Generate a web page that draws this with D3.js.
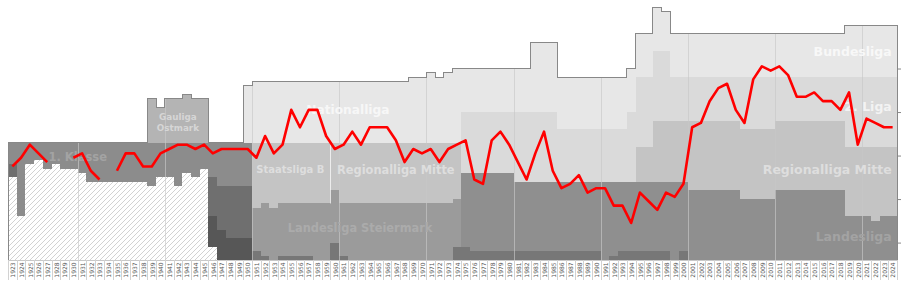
<!DOCTYPE html>
<html>
<head>
<meta charset="utf-8">
<style>
  body { margin: 0; background: #fff; }
  svg { display: block; }
  text { font-family: "DejaVu Sans", Verdana, sans-serif; }
</style>
</head>
<body>
<div id="chartId"></div>
<script src="https://d3js.org/d3.v7.min.js"></script>
<script>

// Seasons (end year of the season)
const firstYear = 1923;
const lastYear = 2024;
const bottomRank = 54;

// League bands: [first season, last season, top position, bottom position]
// unknown lower leagues (hatched)
const hatchBands = [
  [1923, 1923, 35, 54], [1924, 1924, 44, 54], [1925, 1925, 32, 54], [1926, 1926, 31, 54],
  [1927, 1927, 33, 54], [1928, 1928, 32, 54], [1929, 1930, 33, 54], [1931, 1931, 34, 54],
  [1932, 1938, 36, 54], [1939, 1939, 37, 54], [1940, 1941, 35, 54], [1942, 1942, 37, 54],
  [1943, 1943, 34, 54], [1944, 1944, 35, 54], [1945, 1945, 33, 54], [1946, 1946, 51, 54]
];
// Gauliga Ostmark
const gauligaBands = [
  [1939, 1939, 17, 27], [1940, 1940, 19, 27], [1941, 1942, 17, 27], [1943, 1943, 16, 27], [1944, 1945, 17, 27]
];
// 1. Klasse and the regional leagues after the war
const klasseBands = [
  [1923, 1923, 27, 32], [1924, 1924, 27, 44], [1925, 1925, 27, 32], [1926, 1926, 27, 31],
  [1927, 1927, 27, 33], [1928, 1928, 27, 32], [1929, 1930, 27, 33], [1931, 1931, 27, 34],
  [1932, 1938, 27, 36], [1939, 1939, 27, 37], [1940, 1941, 27, 35], [1942, 1942, 27, 37],
  [1943, 1943, 27, 34], [1944, 1944, 27, 35], [1945, 1945, 27, 33], [1946, 1946, 27, 35],
  [1947, 1950, 27, 37]
];
const lowerBands = [
  [1923, 1923, 32, 35], [1946, 1946, 35, 44], [1947, 1947, 37, 47], [1948, 1950, 37, 49]
];
const lowestBands = [
  [1946, 1946, 44, 51], [1947, 1947, 47, 54], [1948, 1950, 49, 54]
];
// Nationalliga / Bundesliga
const tier1Bands = [
  [1950, 1950, 14, 27], [1951, 1968, 13, 27], [1969, 1970, 12, 27], [1971, 1971, 11, 27],
  [1972, 1972, 12, 27], [1973, 1973, 11, 27], [1974, 1974, 10, 27], [1975, 1982, 10, 20],
  [1983, 1985, 4, 20], [1986, 1993, 12, 24], [1994, 1994, 10, 20], [1995, 1996, 2, 12],
  [1997, 1997, -4, 6], [1998, 1998, -3, 6], [1999, 2018, 2, 12], [2019, 2024, 0, 12]
];
// 2. Division / Erste Liga / 2. Liga
const tier2Bands = [
  [1975, 1980, 20, 34], [1981, 1985, 20, 36], [1986, 1993, 24, 36], [1994, 1994, 20, 36],
  [1995, 1996, 12, 28], [1997, 1998, 6, 22], [1999, 2006, 12, 22], [2007, 2010, 12, 24],
  [2011, 2018, 12, 22], [2019, 2024, 12, 28]
];
// Staatsliga B / Regionalliga Mitte
const tier3Bands = [
  [1951, 1951, 27, 42], [1952, 1952, 27, 41], [1953, 1953, 27, 42], [1954, 1959, 27, 41],
  [1960, 1960, 27, 38], [1961, 1973, 27, 41], [1974, 1974, 27, 40], [1995, 1996, 28, 36],
  [1997, 2000, 22, 36], [2001, 2006, 22, 38], [2007, 2010, 24, 40], [2011, 2018, 22, 38],
  [2019, 2021, 28, 44], [2022, 2022, 28, 45], [2023, 2024, 28, 44]
];
// Landesliga Steiermark (1951-1974)
const landesBands = [
  [1951, 1951, 42, 52], [1952, 1952, 41, 53], [1953, 1953, 42, 54], [1954, 1957, 41, 53],
  [1958, 1959, 41, 54], [1960, 1960, 38, 50], [1961, 1961, 41, 53], [1962, 1973, 41, 54],
  [1974, 1974, 40, 51]
];
// lower tier from 1975
const tier4Bands = [
  [1975, 1975, 34, 51], [1976, 1980, 34, 52], [1981, 1990, 36, 52], [1991, 1991, 36, 54],
  [1992, 1992, 36, 53], [1993, 1998, 36, 52], [1999, 1999, 36, 54], [2000, 2000, 36, 52],
  [2001, 2006, 38, 54], [2007, 2010, 40, 54], [2011, 2018, 38, 54], [2019, 2021, 44, 54],
  [2022, 2022, 45, 54], [2023, 2024, 44, 54]
];
const tier5Bands = [
  [1951, 1951, 52, 54], [1952, 1952, 53, 54], [1954, 1957, 53, 54], [1960, 1960, 50, 54],
  [1961, 1961, 53, 54], [1974, 1975, 51, 54], [1976, 1990, 52, 54], [1992, 1992, 53, 54],
  [1993, 1998, 52, 54], [2000, 2000, 52, 54]
];

// Final position of the club each season (null = no data)
const seasons = d3.range(firstYear, lastYear + 1);
const positions = [
  33, 31, 28, 30, 32, null, null, 31, 30, 34, 36, null,
  34, 30, 30, 33, 33, 30, 29, 28, 28, 29, 28, 30, 29, 29, 29, 29,
  31, 26, 30, 28, 20, 24, 20, 20, 26, 29, 28, 25, 28, 24, 24, 24, 27, 32, 29, 30, 29, 32, 29, 28,
  27, 36, 37, 27, 25, 28, 32, 36, 30, 25, 34, 38, 37, 35, 39, 38, 38, 42, 42, 46, 39, 41, 43, 39, 40, 37,
  24, 23, 18, 15, 14, 20, 23, 13, 10, 11, 10, 12, 17, 17, 16, 18, 18, 20, 16, 28, 22, 23, 24, 24
];
const rankTicks = [10, 20, 30, 40, 50];

// Dimensions and scales
const width = 905, height = 282;
const x = d3.scaleLinear().domain([firstYear, lastYear + 1]).range([8, 897]);
const y = d3.scaleLinear().domain([0, bottomRank]).range([25, 260]);

const svg = d3.select('#chartId').append('svg')
  .attr('width', width)
  .attr('height', height);

// hatch pattern for the unknown leagues
const pat = svg.append('defs').append('pattern')
  .attr('id', 'hatch')
  .attr('patternUnits', 'userSpaceOnUse')
  .attr('width', 5).attr('height', 5);
pat.append('rect').attr('width', 5).attr('height', 5).attr('fill', '#fff');
pat.append('path')
  .attr('d', 'M0,5 L5,0 M-1,1 L1,-1 M4,6 L6,4')
  .attr('stroke', '#cdcdcd').attr('stroke-width', 0.9);

const layers = [
  {bands: hatchBands, fill: 'url(#hatch)'},
  {bands: gauligaBands, fill: '#b4b4b4'},
  {bands: klasseBands, fill: '#8c8c8c'},
  {bands: lowerBands, fill: '#6f6f6f'},
  {bands: lowestBands, fill: '#575757'},
  {bands: tier1Bands, fill: '#e7e7e7'},
  {bands: tier2Bands, fill: '#dadada'},
  {bands: tier3Bands, fill: '#c4c4c4'},
  {bands: landesBands, fill: '#9b9b9b'},
  {bands: tier4Bands, fill: '#8f8f8f'},
  {bands: tier5Bands, fill: '#777777'}
];

layers.forEach(l => {
  svg.append('g').selectAll('rect')
    .data(l.bands).join('rect')
    .attr('x', d => x(d[0]))
    .attr('width', d => x(d[1] + 1) - x(d[0]))
    .attr('y', d => y(d[2]))
    .attr('height', d => y(d[3]) - y(d[2]))
    .attr('fill', l.fill)
    .attr('shape-rendering', 'crispEdges');
});

// top of the pyramid for each season
const allBands = layers.flatMap(l => l.bands);
const topOf = yr => d3.min(allBands.filter(b => b[0] <= yr && b[1] >= yr), b => b[2]);

// decade lines
svg.append('g').selectAll('line')
  .data(d3.range(1931, lastYear + 1, 10)).join('line')
  .attr('x1', d => Math.round(x(d)) + 0.5).attr('x2', d => Math.round(x(d)) + 0.5)
  .attr('y1', d => y(topOf(d))).attr('y2', y(bottomRank))
  .attr('stroke', '#c8c8c8').attr('stroke-opacity', 0.65);

// separation Staatsliga B / Regionalliga
svg.append('line')
  .attr('x1', Math.round(x(1960)) + 0.5).attr('x2', Math.round(x(1960)) + 0.5)
  .attr('y1', y(27)).attr('y2', y(41))
  .attr('stroke', '#fff').attr('stroke-opacity', 0.7);

// outline of the pyramid
let outline = 'M' + x(firstYear) + ',' + y(bottomRank);
seasons.forEach(yr => {
  outline += 'L' + x(yr) + ',' + y(topOf(yr)) + 'L' + x(yr + 1) + ',' + y(topOf(yr));
});
outline += 'L' + x(lastYear + 1) + ',' + y(bottomRank);
svg.append('path')
  .attr('d', outline)
  .attr('fill', 'none')
  .attr('stroke', '#888')
  .attr('stroke-width', 1)
  .attr('shape-rendering', 'crispEdges');

// league names
const names = [
  {t: '1. Klasse', yr: 1931.0, r: 30.3, size: 11.5, fill: '#a3a3a3', anchor: 'middle'},
  {t: 'Gauliga', yr: 1942.5, r: 21.1, size: 8.8, fill: '#d6d6d6', anchor: 'middle'},
  {t: 'Ostmark', yr: 1942.5, r: 23.6, size: 8.8, fill: '#d6d6d6', anchor: 'middle'},
  {t: 'Nationalliga', yr: 1962.0, r: 19.5, size: 12.2, fill: '#f7f7f7', anchor: 'middle'},
  {t: 'Staatsliga B', yr: 1955.4, r: 33.3, size: 10, fill: '#dedede', anchor: 'middle'},
  {t: 'Regionalliga Mitte', yr: 1960.75, r: 33.3, size: 11.4, fill: '#dedede', anchor: 'start'},
  {t: 'Landesliga Steiermark', yr: 1963.4, r: 46.6, size: 11.4, fill: '#ababab', anchor: 'middle'},
  {t: 'Bundesliga', yr: 2024.4, r: 6.2, size: 12.5, fill: '#f8f8f8', anchor: 'end'},
  {t: '2. Liga', yr: 2024.4, r: 18.8, size: 12.5, fill: '#f3f3f3', anchor: 'end'},
  {t: 'Regionalliga Mitte', yr: 2024.4, r: 33.1, size: 12.5, fill: '#dedede', anchor: 'end'},
  {t: 'Landesliga', yr: 2024.4, r: 48.7, size: 12.5, fill: '#a3a3a3', anchor: 'end'}
];
svg.append('g').selectAll('text')
  .data(names).join('text')
  .attr('x', d => x(d.yr))
  .attr('y', d => y(d.r))
  .attr('text-anchor', d => d.anchor)
  .attr('dominant-baseline', 'central')
  .style('font-size', d => d.size + 'px')
  .style('font-weight', 'bold')
  .attr('fill', d => d.fill)
  .text(d => d.t);

// club position line
const line = d3.line()
  .defined(d => d.pos != null)
  .x(d => x(d.year + 0.5))
  .y(d => y(d.pos - 0.5));
svg.append('path')
  .datum(seasons.map((yr, i) => ({year: yr, pos: positions[i]})))
  .attr('fill', 'none')
  .attr('stroke', '#ff0000')
  .attr('stroke-width', 2.6)
  .attr('stroke-linejoin', 'round')
  .attr('d', line);

// position ticks on the right
const yAxis = d3.axisRight(y).tickValues(rankTicks).tickSize(4).tickFormat('');
svg.append('g')
  .attr('transform', 'translate(' + x(lastYear + 1) + ',0)')
  .call(yAxis)
  .call(g => g.select('.domain').remove())
  .selectAll('line').attr('stroke', '#888');

// season labels
const axisG = svg.append('g');
axisG.append('line')
  .attr('x1', x(firstYear)).attr('x2', x(lastYear + 1))
  .attr('y1', 260.5).attr('y2', 260.5)
  .attr('stroke', '#c8c8c8');
axisG.selectAll('line.sep')
  .data(d3.range(firstYear, lastYear + 2)).join('line')
  .attr('class', 'sep')
  .attr('x1', d => Math.round(x(d)) + 0.5).attr('x2', d => Math.round(x(d)) + 0.5)
  .attr('y1', 260).attr('y2', 280)
  .attr('stroke', '#d2d2d2');
axisG.selectAll('text')
  .data(seasons).join('text')
  .attr('transform', d => 'translate(' + (x(d + 0.5) + 0.3) + ',270) rotate(-90)')
  .attr('text-anchor', 'middle')
  .attr('dominant-baseline', 'central')
  .style('font-size', '6px')
  .attr('fill', '#555')
  .text(d => d);

</script>
</body>
</html>
